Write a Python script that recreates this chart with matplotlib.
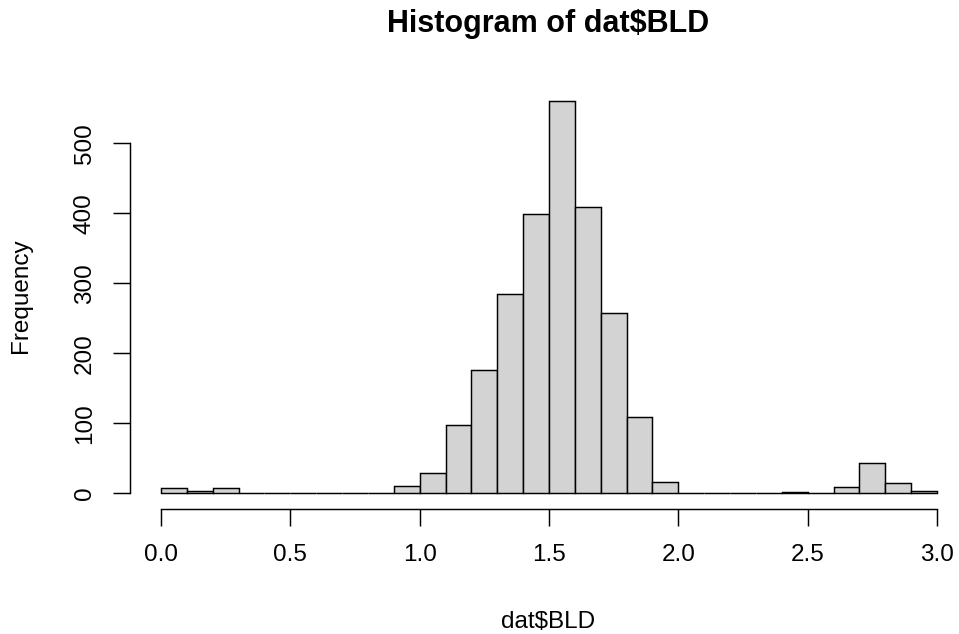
import matplotlib
matplotlib.use("Agg")
import matplotlib.pyplot as plt
import numpy as np

plt.rcParams['font.family'] = ['Liberation Sans', 'DejaVu Sans']

# bin breaks (width 0.1 from 0.0 to 3.0)
breaks = [0.0, 0.1, 0.2, 0.3, 0.4, 0.5, 0.6, 0.7, 0.8, 0.9, 1.0,
          1.1, 1.2, 1.3, 1.4, 1.5, 1.6, 1.7, 1.8, 1.9, 2.0,
          2.1, 2.2, 2.3, 2.4, 2.5, 2.6, 2.7, 2.8, 2.9, 3.0]
counts = [7, 4, 8, 1, 0, 0, 1, 0, 1, 10,
          29, 97, 176, 285, 399, 560, 409, 257, 109, 16,
          1, 0, 1, 0, 2, 0, 9, 43, 15, 3]
x_ticks = [0.0, 0.5, 1.0, 1.5, 2.0, 2.5, 3.0]
x_tick_labels = ["0.0", "0.5", "1.0", "1.5", "2.0", "2.5", "3.0"]
y_ticks = [0, 100, 200, 300, 400, 500]

W, H = 959, 634
fig = plt.figure(figsize=(W / 100, H / 100), dpi=100)
left, right, bottom, top = 130, 968, 509, 85.6
ax = fig.add_axes([left / W, 1 - bottom / H, (right - left) / W, (bottom - top) / H])

lefts = breaks[:-1]
widths = np.diff(breaks)
ax.bar(lefts, counts, width=widths, align='edge', color='#D3D3D3',
       edgecolor='black', linewidth=1.05, clip_on=False)

ymax = max(counts)
ax.set_xlim(breaks[0] - 0.04 * (breaks[-1] - breaks[0]), breaks[-1] + 0.04 * (breaks[-1] - breaks[0]))
ax.set_ylim(-0.04 * ymax, 1.04 * ymax)

for s in ['top', 'right']:
    ax.spines[s].set_visible(False)
ax.spines['bottom'].set_bounds(x_ticks[0], x_ticks[-1])
ax.spines['left'].set_bounds(y_ticks[0], y_ticks[-1])
for s in ['bottom', 'left']:
    ax.spines[s].set_linewidth(1.05)

fs = 17.5
ax.set_xticks(x_ticks)
ax.set_xticklabels(x_tick_labels)
ax.set_yticks(y_ticks)
ax.set_yticklabels([str(v) for v in y_ticks], rotation=90, va='center')
ax.tick_params(axis='both', length=12, width=1.05, labelsize=fs)
ax.tick_params(axis='x', pad=13.3)
ax.tick_params(axis='y', pad=12.5)

fig.text(548 / W, 1 - 32.3 / H, "Histogram of dat$BLD", ha='center', va='baseline',
         fontsize=22, fontweight='bold')
fig.text(548 / W, 1 - 627.5 / H, "dat$BLD", ha='center', va='baseline', fontsize=fs)
fig.text(27.5 / W, 1 - 295.5 / H, "Frequency", ha='center', va='baseline', fontsize=fs,
         rotation=90, rotation_mode='anchor')

fig.savefig("out.png", dpi=100)
